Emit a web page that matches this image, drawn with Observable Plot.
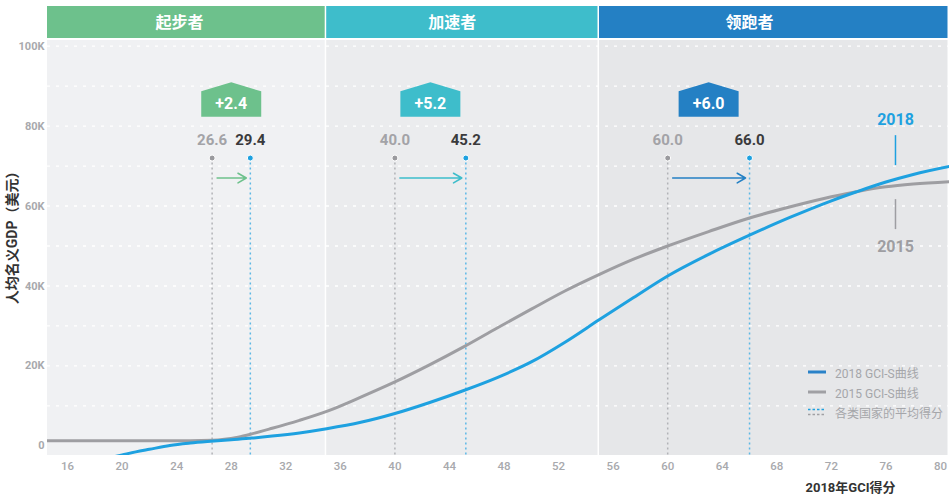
<!DOCTYPE html>
<html>
<head>
<meta charset="utf-8">
<script src="https://cdn.jsdelivr.net/npm/d3@7"></script>
<script src="https://cdn.jsdelivr.net/npm/@observablehq/plot@0.6"></script>
<style>
  html, body { margin: 0; padding: 0; background: #fff; }
  #wrap { position: relative; width: 949px; height: 500px; }
  #legend { position: absolute; left: 808px; top: 362px; font-family: Roboto, "Noto Sans CJK SC", sans-serif; font-size: 12px; color: #a5a6aa; }
  #legend .row { display: flex; align-items: center; height: 20px; }
  #legend svg { margin-right: 9px; }
</style>
</head>
<body>
<div id="wrap"></div>
<script>
// ---- data ----
const stages = ["起步者", "加速者", "领跑者"];
const stageStart = [14.53, 35, 55];
const stageEnd = [35, 55, 80.66];
const stageLabelAt = [24.2, 44.2, 66.0];
const avg2015 = [26.6, 40.0, 60.0];
const avg2018 = [29.4, 45.2, 66.0];
const gains = ["+2.4", "+5.2", "+6.0"];

const gci2015 = [14.53, 18, 22, 25, 26.6, 27.5, 28.5, 29.5, 31, 33, 35.2, 37.5, 40, 42.5, 45, 47.5, 50, 52.5, 55, 57.5, 60, 63, 66, 69, 72, 74, 76, 78, 80.66];
const gdp2015 = [1.3, 1.3, 1.3, 1.3, 1.4, 1.65, 2.2, 3.0, 4.4, 6.4, 8.9, 12.2, 16.0, 20.2, 24.7, 29.5, 34.2, 38.8, 42.9, 46.7, 50.0, 53.6, 57.0, 59.8, 62.3, 63.7, 64.8, 65.5, 66.1];

const gci2018 = [19.0, 20, 21, 22, 23.5, 25, 26.5, 28, 29.5, 31, 33, 35, 37.5, 40, 42.5, 45, 47.5, 50, 52.5, 55, 57.5, 60, 63, 66, 69, 72, 73.8, 76, 78, 80.66];
const gdp2018 = [-3.0, -2.25, -1.5, -0.85, 0.1, 0.7, 1.15, 1.55, 1.95, 2.45, 3.25, 4.3, 5.9, 8.1, 10.8, 13.8, 17.1, 21.0, 26.0, 31.6, 37.1, 42.5, 47.9, 52.7, 57.2, 61.3, 63.5, 66.0, 67.9, 69.9];

const yTicks = [0, 20, 40, 60, 80, 100];
const yGrid = [10, 20, 30, 40, 50, 60, 70, 80, 90, 100];
const xTicks = [16, 20, 24, 28, 32, 36, 40, 44, 48, 52, 56, 60, 64, 68, 72, 76, 80];

// ---- styles ----
const stageColors = ["#6dc18c", "#3ebdcb", "#2480c4"];
const bgColors = ["#f0f1f3", "#ebecee", "#e6e7e9"];
const blue = "#1ea1e0";
const gray = "#9e9ea2";
const yMin = -2.4, yMax = 101.4;
const idx = [0, 1, 2];

const house = {
  draw(context, size) {
    const r = Math.sqrt(size / Math.PI);
    context.moveTo(-r, -0.277 * r);
    context.lineTo(0, -0.577 * r);
    context.lineTo(r, -0.277 * r);
    context.lineTo(r, 0.567 * r);
    context.lineTo(-r, 0.567 * r);
    context.closePath();
  }
};

const s2015 = gci2015.map((x, i) => ({x, y: gdp2015[i]}));
const s2018 = gci2018.map((x, i) => ({x, y: gdp2018[i]}));

const chart = Plot.plot({
  width: 949,
  height: 500,
  marginLeft: 47,
  marginRight: 0,
  marginTop: 40,
  marginBottom: 45,
  style: { fontFamily: "Roboto, 'Noto Sans CJK SC', sans-serif", background: "white", overflow: "visible" },
  x: { domain: [14.53, 80.66], label: null },
  y: { domain: [yMin, yMax], label: null },
  color: { type: "identity" },
  marks: [
    // stage backgrounds
    Plot.rect(idx, { x1: i => stageStart[i], x2: i => stageEnd[i], y1: yMin, y2: yMax, fill: i => bgColors[i], insetRight: 1.5 }),
    // header bars
    Plot.rect(idx, { x1: i => stageStart[i], x2: i => stageEnd[i], y1: yMin, y2: yMax, fill: i => stageColors[i], insetTop: -34, insetBottom: 417, insetRight: 1.5 }),
    Plot.text(idx, { x: i => stageLabelAt[i], text: i => stages[i], frameAnchor: "top", lineAnchor: "middle", dy: -18, fill: "white", fontSize: 16, fontWeight: "bold" }),
    // grid
    Plot.ruleY(yGrid, { stroke: "white", strokeDasharray: "3,6", strokeWidth: 1.3 }),
    // axes
    Plot.axisY({ ticks: yTicks, tickSize: 0, tickPadding: 3, tickFormat: d => d === 0 ? "0" : `${d}K`, fill: "#a8a9ad", fontSize: 11, fontWeight: "bold", label: null }),
    Plot.axisX({ ticks: xTicks, tickSize: 0, tickPadding: 6, fill: "#a8a9ad", fontSize: 11.5, fontWeight: 500, label: null }),
    // dotted average lines
    Plot.ruleX(avg2015, { x: d => d, y1: 72, y2: yMin, stroke: "#b2b3b7", strokeDasharray: "2,3", strokeWidth: 1.5 }),
    Plot.ruleX(avg2018, { x: d => d, y1: 72, y2: yMin, stroke: "#5cb8e6", strokeDasharray: "2,3", strokeWidth: 1.5 }),
    // curves
    Plot.line(s2015, { x: "x", y: "y", stroke: gray, strokeWidth: 3, curve: "monotone-x", clip: true }),
    Plot.line(s2018, { x: "x", y: "y", stroke: blue, strokeWidth: 3, curve: "monotone-x", clip: true }),
    // average dots and labels
    Plot.dot(avg2015, { x: d => d, y: 72, r: 3, fill: "#9a9a9e", stroke: "white", strokeWidth: 1 }),
    Plot.dot(avg2018, { x: d => d, y: 72, r: 3, fill: blue, stroke: "white", strokeWidth: 1 }),
    Plot.text(avg2015, { x: d => d, y: 76.4, text: d => d.toFixed(1), fill: "#a3a3a7", fontSize: 15, fontWeight: "bold" }),
    Plot.text(avg2018, { x: d => d, y: 76.4, text: d => d.toFixed(1), fill: "#3a3a3c", fontSize: 15, fontWeight: "bold" }),
    // arrows
    Plot.arrow(idx, { x1: i => avg2015[i], x2: i => avg2018[i], y1: 67, y2: 67, stroke: i => stageColors[i], strokeWidth: 1.6, headLength: 9, insetStart: 5, insetEnd: 4 }),
    // gain badges
    Plot.dot(idx, { x: i => (avg2015[i] + avg2018[i]) / 2, y: 86.6, r: 30, symbol: house, fill: i => stageColors[i] }),
    Plot.text(idx, { x: i => (avg2015[i] + avg2018[i]) / 2, y: 86.6, dy: 4, text: i => gains[i], fill: "white", fontSize: 16, fontWeight: "bold" }),
    // series end labels
    Plot.ruleX([76.7], { x: d => d, y1: 77.6, y2: 70.1, stroke: blue, strokeWidth: 1.5 }),
    Plot.text(["2018"], { x: 76.7, y: 81.5, text: d => d, fill: blue, fontSize: 16, fontWeight: "bold" }),
    Plot.ruleX([76.7], { x: d => d, y1: 61.6, y2: 54.1, stroke: gray, strokeWidth: 1.5 }),
    Plot.text(["2015"], { x: 76.7, y: 49.9, text: d => d, fill: gray, fontSize: 16, fontWeight: "bold" }),
    // axis titles
    Plot.text(["人均名义GDP（美元）"], { frameAnchor: "left", textAnchor: "middle", lineAnchor: "middle", y: 52.9, dx: -35, rotate: -90, text: d => d, fill: "#333", fontSize: 14, fontWeight: "bold" }),
    Plot.text(["2018年GCI得分"], { frameAnchor: "bottom", lineAnchor: "middle", x: 73.4, dy: 32, text: d => d, fill: "#333", fontSize: 13, fontWeight: "bold" })
  ]
});

const wrap = document.getElementById("wrap");
wrap.appendChild(chart);

const legend = document.createElement("div");
legend.id = "legend";
legend.innerHTML = `
  <div class="row"><svg width="18" height="6"><line x1="0" x2="18" y1="3" y2="3" stroke="#2a82c8" stroke-width="3"/></svg>2018 GCI-S曲线</div>
  <div class="row"><svg width="18" height="6"><line x1="0" x2="18" y1="3" y2="3" stroke="#a0a0a4" stroke-width="3"/></svg>2015 GCI-S曲线</div>
  <div class="row"><svg width="18" height="8"><line x1="0" x2="18" y1="1.5" y2="1.5" stroke="#1ea1e0" stroke-width="1.5" stroke-dasharray="2.5,2"/><line x1="0" x2="18" y1="6.5" y2="6.5" stroke="#a0a0a4" stroke-width="1.5" stroke-dasharray="2.5,2"/></svg>各类国家的平均得分</div>`;
wrap.appendChild(legend);
</script>
</body>
</html>
